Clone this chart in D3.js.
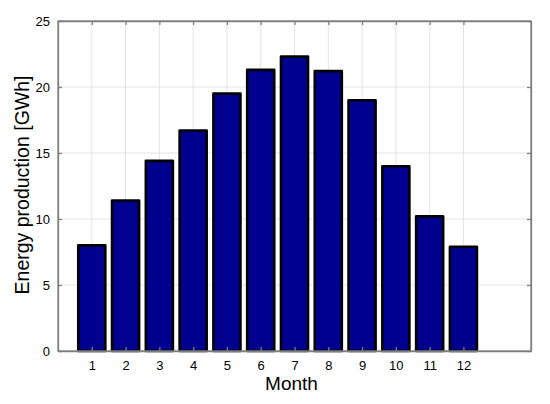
<!DOCTYPE html>
<html><head><meta charset="utf-8">
<script src="https://cdn.jsdelivr.net/npm/d3@7"></script>
<style>body{margin:0;background:#fff}svg{display:block}text{font-family:"Liberation Sans",Arial,Helvetica,sans-serif}</style>
</head><body><div id="chart"></div>
<script>
const months = [1,2,3,4,5,6,7,8,9,10,11,12];
const energy = [8.0,11.4,14.4,16.7,19.5,21.3,22.3,21.2,19.0,14.0,10.2,7.9];
const yTicks = [0,5,10,15,20,25];
const xLabel = "Month";
const yLabel = "Energy production [GWh]";

const W=550,H=404;
const m={left:58,right:19,top:21,bottom:53};
const svg=d3.select("#chart").append("svg").attr("width",W).attr("height",H);
const x=d3.scaleLinear().domain([0,14]).range([m.left,W-m.right]);
const y=d3.scaleLinear().domain([0,25]).range([H-m.bottom,m.top]);
const gridC="#e3e3e3", axC="#7f7f7f";

// grid
svg.append("g").selectAll("line").data(months).join("line")
  .attr("x1",d=>x(d)).attr("x2",d=>x(d)).attr("y1",y(0)).attr("y2",y(25))
  .attr("stroke",gridC).attr("stroke-width",1);
svg.append("g").selectAll("line").data(yTicks.slice(1,-1)).join("line")
  .attr("x1",x(0)).attr("x2",x(14)).attr("y1",d=>y(d)).attr("y2",d=>y(d))
  .attr("stroke",gridC).attr("stroke-width",1);

// bars
const bw=0.8;
svg.append("g").selectAll("rect").data(months).join("rect")
  .attr("x",(d)=>x(d-bw/2)).attr("width",x(bw)-x(0))
  .attr("y",(d,i)=>y(energy[i])).attr("height",(d,i)=>y(0)-y(energy[i]))
  .attr("fill","#00008f").attr("stroke","#000").attr("stroke-width",2.6)
  .attr("stroke-linejoin","round");

// axes
const tl=4;
const gB=svg.append("g").attr("transform",`translate(0,${y(0)})`)
  .call(d3.axisBottom(x).tickValues(months).tickSizeInner(-tl).tickSizeOuter(0).tickPadding(10));
const gT=svg.append("g").attr("transform",`translate(0,${y(25)})`)
  .call(d3.axisTop(x).tickValues(months).tickSizeInner(-tl).tickSizeOuter(0).tickFormat(""));
const gL=svg.append("g").attr("transform",`translate(${x(0)},0)`)
  .call(d3.axisLeft(y).tickValues(yTicks).tickSizeInner(-tl).tickSizeOuter(0).tickPadding(8));
const gR=svg.append("g").attr("transform",`translate(${x(14)},0)`)
  .call(d3.axisRight(y).tickValues(yTicks).tickSizeInner(-tl).tickSizeOuter(0).tickFormat(""));
[gB,gT,gL,gR].forEach(g=>{
  g.select(".domain").attr("stroke",axC).attr("stroke-width",1.3);
  g.selectAll(".tick line").attr("stroke",axC).attr("stroke-width",1.3);
  g.selectAll(".tick text").attr("fill","#000").attr("font-size",13)
   .attr("font-family","'Liberation Sans',Arial,sans-serif");
});
svg.append("rect").attr("x",x(0)).attr("y",y(25)).attr("width",x(14)-x(0)).attr("height",y(0)-y(25))
  .attr("fill","none").attr("stroke",axC).attr("stroke-width",1.3);

svg.append("text").attr("x",(x(0)+x(14))/2-3).attr("y",390).attr("text-anchor","middle")
  .attr("font-size",19).text(xLabel);
svg.append("text").attr("transform",`translate(29,${(y(0)+y(25))/2-1}) rotate(-90)`)
  .attr("text-anchor","middle").attr("font-size",19.5).text(yLabel);
</script></body></html>
